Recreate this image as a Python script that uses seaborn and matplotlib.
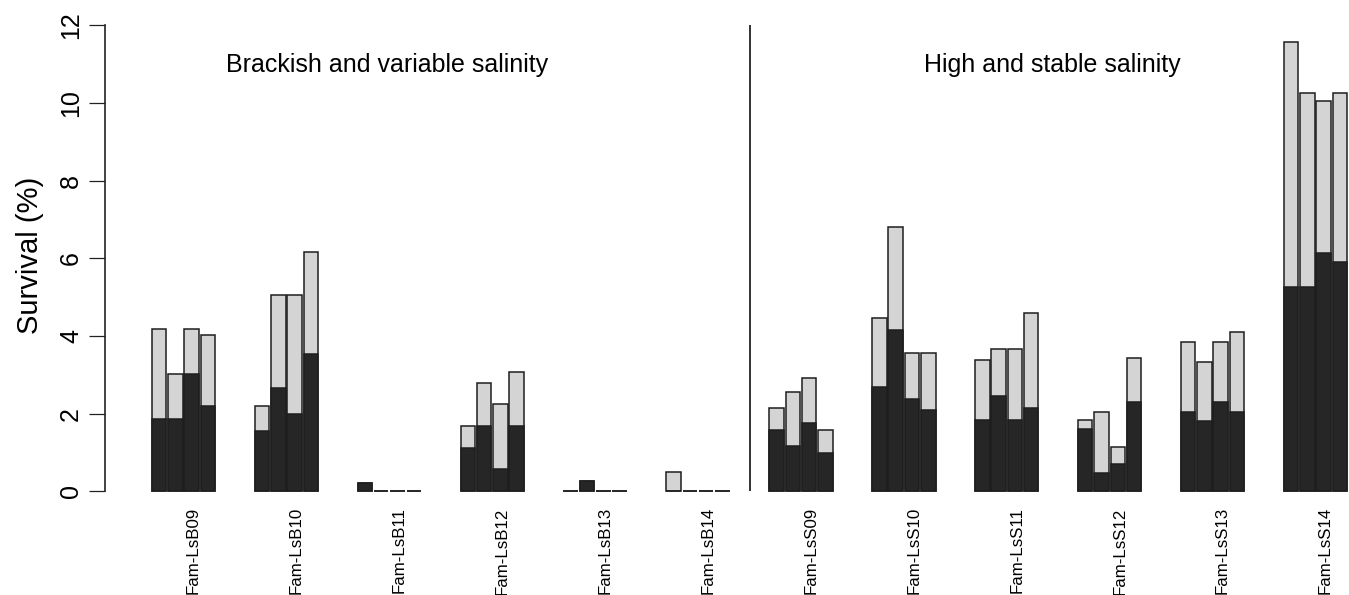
import numpy as np
import pandas as pd
import matplotlib
matplotlib.use("Agg")
import matplotlib.pyplot as plt
from matplotlib.transforms import ScaledTranslation
import seaborn as sns

# ---- data ----
families = ["Fam-LsB09", "Fam-LsB10", "Fam-LsB11", "Fam-LsB12", "Fam-LsB13", "Fam-LsB14",
            "Fam-LsS09", "Fam-LsS10", "Fam-LsS11", "Fam-LsS12", "Fam-LsS13", "Fam-LsS14"]
replicates = ["R1", "R2", "R3", "R4"]
survival_total = [
    [4.18, 3.02, 4.18, 4.03],
    [2.20, 5.06, 5.06, 6.16],
    [0.22, 0.00, 0.00, 0.00],
    [1.68, 2.80, 2.24, 3.08],
    [0.00, 0.28, 0.00, 0.00],
    [0.50, 0.00, 0.00, 0.00],
    [2.15, 2.55, 2.93, 1.58],
    [4.46, 6.81, 3.55, 3.55],
    [3.37, 3.67, 3.67, 4.58],
    [1.84, 2.05, 1.15, 3.43],
    [3.84, 3.32, 3.84, 4.10],
    [11.58, 10.26, 10.05, 10.26],
]
survival_dark = [
    [1.86, 1.86, 3.02, 2.19],
    [1.55, 2.65, 2.00, 3.54],
    [0.22, 0.00, 0.00, 0.00],
    [1.12, 1.68, 0.58, 1.68],
    [0.00, 0.28, 0.00, 0.00],
    [0.00, 0.00, 0.00, 0.00],
    [1.58, 1.18, 1.77, 0.99],
    [2.68, 4.15, 2.38, 2.10],
    [1.85, 2.46, 1.85, 2.15],
    [1.61, 0.48, 0.71, 2.29],
    [2.04, 1.80, 2.30, 2.04],
    [5.25, 5.25, 6.13, 5.90],
]
yticks = [0, 2, 4, 6, 8, 10, 12]
group_titles = ["Brackish and variable salinity", "High and stable salinity"]

rows = []
for fam, tot, drk in zip(families, survival_total, survival_dark):
    for rep, t, d in zip(replicates, tot, drk):
        rows.append({"family": fam, "rep": rep, "total": t, "dark": d})
df = pd.DataFrame(rows)

# ---- style ----
sns.set_style("white")
plt.rcParams["font.family"] = ["Liberation Sans", "DejaVu Sans"]
plt.rcParams["text.color"] = "black"
plt.rcParams["axes.labelcolor"] = "black"
plt.rcParams["xtick.color"] = "black"
plt.rcParams["ytick.color"] = "black"

LIGHT = "#d4d4d4"
DARK = "#262626"
EDGE = "#1e1e1e"

W, H = 1349, 595
fig = plt.figure(figsize=(W / 100, H / 100), dpi=100)

# axes placement (pixels -> figure fraction)
ylo, yhi = -0.3, 12.2
px_per_y = 38.85
ax_bottom_px = 491.4 + (0 - ylo) * px_per_y
ax_top_px = 25.2 - (yhi - 12) * px_per_y
ax_left_px = 105
ax = fig.add_axes([ax_left_px / W, 1 - ax_bottom_px / H, 1 - ax_left_px / W,
                   (ax_bottom_px - ax_top_px) / H])

bar_kw = dict(x="family", hue="rep", order=families, hue_order=replicates,
              width=0.633, gap=0.11, edgecolor=EDGE, linewidth=1.1,
              legend=False, errorbar=None, saturation=1, ax=ax)
sns.barplot(data=df, y="total", palette=[LIGHT] * 4, **bar_kw)
sns.barplot(data=df, y="dark", palette=[DARK] * 4, **bar_kw)

group_px = 102.9
first_left_px = 151
xl = -0.3165 - (first_left_px - ax_left_px) / group_px
ax.set_xlim(xl, xl + (W - ax_left_px) / group_px)
ax.set_ylim(ylo, yhi)

# divider between habitats
ax.vlines(5.5, 0, 12, color="#222222", linewidth=1.3)

# group titles
ax.text(1.98, 10.8, group_titles[0], ha="center", va="baseline", fontsize=18, color="black")
ax.text(8.44, 10.8, group_titles[1], ha="center", va="baseline", fontsize=18, color="black")

# axes styling
for s in ["top", "right", "bottom"]:
    ax.spines[s].set_visible(False)
ax.spines["left"].set_bounds(0, 12)
ax.spines["left"].set_linewidth(1.2)
ax.spines["left"].set_color("#222222")

ax.set_yticks(yticks)
ax.set_yticklabels([str(v) for v in yticks])
ax.tick_params(axis="y", length=11.5, width=0.9, pad=4.3, labelsize=18,
               labelrotation=90, left=True, color="#222222", labelcolor="black")
for lab in ax.get_yticklabels():
    lab.set_va("center")

ax.set_xticks(range(len(families)))
ax.set_xticklabels(families, rotation=90, fontsize=12.2, va="top", ha="center",
                   color="black")
ax.tick_params(axis="x", length=0, pad=3.0)
off = ScaledTranslation(10 / 100, 0, fig.dpi_scale_trans)
for lab in ax.get_xticklabels():
    lab.set_transform(lab.get_transform() + off)

ax.set_xlabel("")
ax.set_ylabel("Survival (%)", fontsize=21, color="black")
ax.yaxis.set_label_coords((44 - ax_left_px) / (W - ax_left_px), 0.51)

fig.savefig("out.png", dpi=100)
